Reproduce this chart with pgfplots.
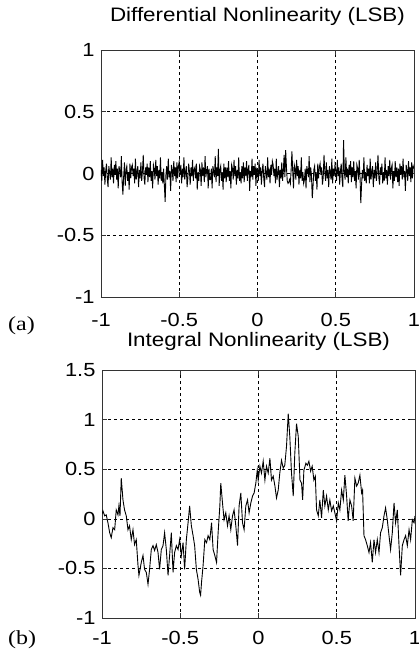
\documentclass[border=0pt]{standalone}
\usepackage{pgfplots}
\pgfplotsset{compat=1.18}
\usepackage{pgfplotstable}
\usepackage{fontspec}
\setmainfont{Liberation Sans}[FakeStretch=1.15]
\newfontfamily\seriffont{Liberation Serif}[FakeStretch=1.2]

% DNL, one value per code step (x = -1 ... 1, step 0.005)
\pgfplotstableread[row sep=\\]{
y\\
0.03\\ -0.06\\ 0.11\\ -0.02\\ 0.05\\ -0.09\\ 0.02\\ 0.08\\ -0.04\\ -0.11\\ 0.06\\ 0.01\\ -0.05\\ 0.13\\ -0.03\\ 0.04\\ -0.08\\ 0.07\\ -0.01\\ 0.10\\
-0.05\\ 0.04\\ -0.12\\ 0.06\\ 0.02\\ -0.03\\ 0.14\\ -0.07\\ -0.17\\ -0.02\\ 0.09\\ -0.10\\ 0.03\\ 0.06\\ -0.06\\ 0.01\\ -0.13\\ 0.08\\ -0.04\\ 0.05\\
0.07\\ -0.02\\ 0.04\\ -0.08\\ 0.12\\ -0.05\\ 0.01\\ 0.06\\ -0.11\\ 0.03\\ -0.04\\ 0.09\\ -0.06\\ 0.02\\ 0.15\\ -0.03\\ -0.09\\ 0.05\\ -0.01\\ 0.08\\
-0.07\\ 0.05\\ -0.03\\ 0.10\\ -0.06\\ 0.02\\ -0.12\\ 0.07\\ 0.04\\ -0.05\\ 0.11\\ -0.02\\ 0.06\\ -0.09\\ 0.03\\ -0.04\\ 0.13\\ -0.06\\ 0.01\\ -0.08\\
0.04\\ -0.10\\ -0.23\\ -0.01\\ 0.06\\ -0.05\\ 0.12\\ -0.03\\ 0.02\\ -0.14\\ 0.07\\ 0.03\\ -0.06\\ 0.10\\ -0.02\\ 0.05\\ -0.07\\ 0.09\\ -0.04\\ 0.06\\
0.10\\ -0.01\\ 0.07\\ -0.08\\ 0.04\\ -0.03\\ 0.13\\ -0.05\\ 0.01\\ 0.06\\ -0.11\\ -0.04\\ 0.08\\ 0.02\\ -0.09\\ 0.05\\ -0.02\\ 0.11\\ -0.06\\ 0.03\\
0.05\\ -0.04\\ 0.08\\ -0.13\\ 0.01\\ -0.06\\ 0.06\\ 0.03\\ -0.10\\ 0.09\\ -0.02\\ 0.05\\ -0.07\\ 0.14\\ -0.03\\ 0.02\\ 0.06\\ -0.12\\ 0.04\\ -0.05\\
-0.05\\ 0.04\\ -0.12\\ 0.06\\ 0.02\\ -0.03\\ 0.14\\ -0.07\\ 0.05\\ -0.02\\ 0.20\\ -0.10\\ 0.03\\ 0.06\\ -0.06\\ 0.01\\ -0.13\\ 0.08\\ -0.04\\ 0.05\\
-0.07\\ 0.05\\ -0.03\\ 0.10\\ -0.06\\ 0.02\\ -0.12\\ 0.07\\ 0.04\\ -0.05\\ 0.11\\ -0.02\\ 0.06\\ -0.09\\ 0.03\\ -0.04\\ 0.13\\ -0.06\\ 0.01\\ -0.08\\
0.06\\ -0.04\\ 0.09\\ -0.07\\ 0.05\\ -0.02\\ 0.10\\ -0.06\\ 0.03\\ 0.07\\ -0.14\\ 0.02\\ -0.03\\ 0.12\\ -0.05\\ 0.06\\ -0.01\\ 0.08\\ -0.10\\ 0.04\\
0.03\\ -0.06\\ 0.11\\ -0.02\\ 0.05\\ -0.09\\ 0.02\\ 0.08\\ -0.04\\ -0.11\\ 0.06\\ 0.01\\ -0.05\\ 0.13\\ -0.03\\ 0.04\\ -0.08\\ 0.07\\ -0.01\\ 0.10\\
0.07\\ -0.02\\ 0.04\\ -0.08\\ 0.12\\ -0.05\\ 0.01\\ 0.06\\ -0.11\\ 0.03\\ -0.04\\ 0.09\\ -0.06\\ 0.02\\ 0.15\\ -0.03\\ 0.19\\ 0.05\\ -0.06\\ -0.08\\
-0.07\\ -0.05\\ -0.08\\ 0.03\\ 0.18\\ 0.02\\ -0.12\\ 0.07\\ 0.04\\ -0.05\\ 0.11\\ -0.02\\ 0.06\\ -0.09\\ 0.03\\ -0.04\\ 0.13\\ -0.06\\ 0.01\\ -0.08\\
-0.05\\ 0.04\\ -0.12\\ 0.06\\ 0.02\\ -0.03\\ 0.14\\ -0.07\\ 0.05\\ -0.02\\ -0.20\\ -0.10\\ 0.03\\ 0.06\\ -0.06\\ 0.01\\ -0.13\\ 0.08\\ -0.04\\ 0.05\\
0.08\\ -0.01\\ 0.05\\ -0.09\\ -0.03\\ 0.15\\ 0.02\\ -0.06\\ 0.09\\ -0.04\\ 0.03\\ -0.11\\ 0.06\\ 0.01\\ -0.05\\ 0.12\\ -0.08\\ 0.04\\ -0.02\\ 0.07\\
0.03\\ -0.06\\ 0.11\\ -0.02\\ 0.05\\ -0.09\\ 0.02\\ 0.08\\ -0.04\\ -0.11\\ 0.27\\ 0.01\\ -0.05\\ 0.13\\ -0.03\\ 0.04\\ -0.08\\ 0.07\\ -0.01\\ 0.10\\
-0.07\\ 0.05\\ -0.03\\ 0.10\\ -0.06\\ 0.02\\ -0.12\\ 0.07\\ 0.04\\ -0.05\\ 0.11\\ -0.02\\ -0.24\\ -0.09\\ 0.03\\ -0.04\\ 0.13\\ -0.06\\ 0.01\\ -0.08\\
0.07\\ -0.02\\ 0.04\\ -0.08\\ 0.12\\ -0.05\\ 0.01\\ 0.06\\ -0.11\\ 0.03\\ -0.04\\ 0.09\\ -0.06\\ 0.02\\ 0.15\\ -0.03\\ -0.09\\ 0.05\\ -0.01\\ 0.08\\
-0.08\\ 0.01\\ -0.06\\ 0.13\\ -0.04\\ 0.03\\ -0.09\\ 0.06\\ -0.02\\ 0.11\\ -0.05\\ 0.04\\ 0.07\\ -0.12\\ 0.02\\ -0.06\\ 0.10\\ -0.03\\ 0.05\\ -0.07\\
0.04\\ -0.10\\ 0.08\\ -0.01\\ 0.06\\ -0.05\\ 0.12\\ -0.03\\ 0.02\\ -0.14\\ 0.07\\ 0.03\\ -0.06\\ 0.10\\ -0.02\\ 0.05\\ -0.07\\ 0.09\\ -0.04\\ 0.06\\
0.04\\
}\dnl

\pgfplotsset{
  nlstyle/.style={
    scale only axis,
    width=313pt,
    xmin=-1, xmax=1,
    xtick={-1,-0.5,0,0.5,1},
    grid=major,
    major grid style={black, line width=0.6pt, dash pattern=on 3pt off 3pt},
    axis line style={black!80, line width=0.8pt},
    tick style={black!80, line width=0.6pt},
    major tick length=5pt,
    tick align=inside,
    tick label style={font=\fontsize{19}{22}\selectfont},
    /pgf/number format/assume math mode=true,
    yticklabel style={xshift=-3pt},
    title style={at={(0.5,1)}, anchor=base, font=\fontsize{19.5}{22}\selectfont},
  }
}

\begin{document}
\begin{tikzpicture}[x=1pt,y=1pt]
\useasboundingbox (0,0) rectangle (419,-649);

\begin{axis}[nlstyle,
  at={(101pt,-297pt)}, anchor=south west,
  height=247pt,
  ymin=-1, ymax=1,
  ytick={-1,-0.5,0,0.5,1},
  xticklabel style={yshift=-13pt},
  title={Differential Nonlinearity (LSB)},
  title style={yshift=23pt},
]
\addplot[black, line width=0.9pt] table[x expr=\coordindex*0.005-1, y=y] {\dnl};
\end{axis}

\begin{axis}[nlstyle,
  at={(102pt,-618pt)}, anchor=south west,
  height=248pt,
  ymin=-1, ymax=1.5,
  ytick={-1,-0.5,0,0.5,1,1.5},
  xticklabel style={yshift=-10pt},
  title={Integral Nonlinearity (LSB)},
  title style={yshift=18pt},
]
\addplot[black, line width=0.9pt] coordinates {
(-1.000,0.05) (-0.994,0.08) (-0.983,0.03) (-0.973,0.04) (-0.962,-0.04)
(-0.951,-0.14) (-0.941,-0.19) (-0.930,-0.09) (-0.919,-0.11) (-0.909,0.09)
(-0.898,0.04) (-0.892,0.13) (-0.885,0.03) (-0.877,0.41) (-0.866,0.19)
(-0.856,0.09) (-0.845,0.03) (-0.834,-0.11) (-0.824,-0.07) (-0.813,-0.21)
(-0.802,-0.11) (-0.792,-0.26) (-0.781,-0.21) (-0.770,-0.47) (-0.764,-0.57)
(-0.749,-0.44) (-0.738,-0.37) (-0.728,-0.51) (-0.717,-0.54) (-0.706,-0.66)
(-0.696,-0.51) (-0.685,-0.31) (-0.674,-0.27) (-0.664,-0.32) (-0.653,-0.26)
(-0.642,-0.34) (-0.632,-0.51) (-0.621,-0.31) (-0.610,-0.27) (-0.600,-0.14)
(-0.589,-0.31) (-0.578,-0.57) (-0.568,-0.37) (-0.557,-0.14) (-0.546,-0.54)
(-0.536,-0.34) (-0.525,-0.27) (-0.514,-0.31) (-0.504,-0.21) (-0.493,-0.37)
(-0.482,-0.24) (-0.472,-0.51) (-0.461,-0.21) (-0.450,-0.04) (-0.440,0.13)
(-0.429,-0.07) (-0.418,-0.17) (-0.408,-0.27) (-0.397,-0.51) (-0.386,-0.61)
(-0.376,-0.74) (-0.370,-0.77) (-0.364,-0.64) (-0.354,-0.47) (-0.343,-0.21)
(-0.332,-0.24) (-0.322,-0.17) (-0.311,-0.21) (-0.300,-0.04) (-0.290,-0.31)
(-0.279,-0.37) (-0.268,-0.44) (-0.258,-0.14) (-0.247,0.13) (-0.241,0.36)
(-0.230,0.16) (-0.220,-0.01) (-0.209,0.06) (-0.198,-0.07) (-0.188,0.03)
(-0.177,-0.11) (-0.166,0.03) (-0.156,0.09) (-0.145,-0.07) (-0.134,-0.27)
(-0.124,0.13) (-0.113,0.26) (-0.102,-0.04) (-0.092,-0.11) (-0.081,0.13)
(-0.070,0.19) (-0.060,0.06) (-0.049,0.16) (-0.038,0.23) (-0.028,0.26)
(-0.017,0.36) (-0.008,0.49) (-0.002,0.39) (0.009,0.53) (0.019,0.46)
(0.030,0.58) (0.041,0.39) (0.051,0.53) (0.062,0.46) (0.073,0.61)
(0.083,0.39) (0.094,0.43) (0.105,0.33) (0.115,0.21) (0.126,0.29)
(0.136,0.46) (0.147,0.59) (0.158,0.51) (0.168,0.54) (0.179,0.73)
(0.190,1.06) (0.200,0.83) (0.211,0.46) (0.222,0.23) (0.232,0.66)
(0.243,0.96) (0.254,0.83) (0.265,0.39) (0.275,0.36) (0.282,0.19)
(0.290,0.49) (0.303,0.56) (0.312,0.54) (0.322,0.58) (0.333,0.48)
(0.343,0.53) (0.354,0.39) (0.363,0.43) (0.371,0.09) (0.382,0.03)
(0.392,0.19) (0.403,0.01) (0.414,0.29) (0.424,0.13) (0.435,0.23)
(0.446,0.09) (0.456,0.19) (0.467,0.08) (0.478,0.13) (0.488,0.06)
(0.499,-0.02) (0.510,0.16) (0.520,0.09) (0.531,0.29) (0.542,0.19)
(0.552,0.44) (0.563,0.23) (0.573,-0.02) (0.584,0.19) (0.595,0.13)
(0.605,-0.02) (0.616,0.41) (0.627,0.33) (0.637,0.36) (0.648,0.44)
(0.659,0.26) (0.665,0.29) (0.674,-0.17) (0.684,-0.21) (0.695,-0.27)
(0.706,-0.34) (0.716,-0.24) (0.727,-0.44) (0.738,-0.21) (0.748,-0.34)
(0.759,-0.21) (0.770,-0.34) (0.780,-0.14) (0.791,-0.09) (0.802,0.03)
(0.812,0.11) (0.823,-0.01) (0.834,-0.17) (0.844,-0.31) (0.855,-0.14)
(0.866,0.16) (0.876,-0.04) (0.887,0.09) (0.898,-0.27) (0.908,-0.57)
(0.919,-0.27) (0.930,-0.21) (0.940,-0.17) (0.951,-0.27) (0.962,-0.11)
(0.972,-0.21) (0.983,-0.01) (0.994,-0.04) (1.000,0.03)
};
\end{axis}

\node[anchor=base west, inner sep=0pt, font=\seriffont\fontsize{20}{24}\selectfont] at (8,-330) {(a)};
\node[anchor=base west, inner sep=0pt, font=\seriffont\fontsize{20}{24}\selectfont] at (8,-644) {(b)};
\end{tikzpicture}
\end{document}
